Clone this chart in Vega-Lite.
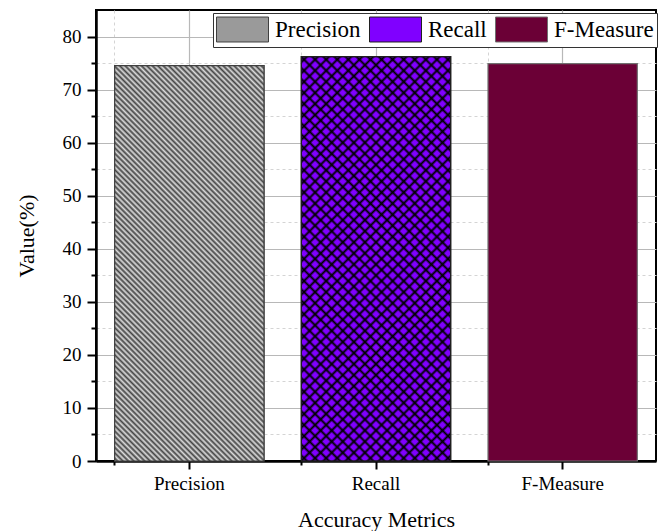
{
  "$schema": "https://vega.github.io/schema/vega-lite/v6.json",
  "width": 560,
  "height": 451,
  "autosize": "none",
  "padding": {"left": 96, "top": 10, "right": 4, "bottom": 70},
  "background": "white",
  "data": {"values": [
    {"Metric": "Precision", "Value": 74.5},
    {"Metric": "Recall", "Value": 76.2},
    {"Metric": "F-Measure", "Value": 74.9}
  ]},
  "config": {
    "view": {"stroke": "black", "strokeWidth": 2},
    "font": "Liberation Serif"
  },
  "resolve": {"axis": {"x": "independent", "y": "independent"}},
  "layer": [
    {
      "mark": {"type": "bar", "opacity": 0},
      "encoding": {
        "x": {
          "field": "Metric", "type": "nominal",
          "scale": {"domain": ["Precision", "Recall", "F-Measure"], "paddingInner": 0.2, "paddingOuter": 0.1},
          "axis": {"orient": "bottom", "bandPosition": 0, "labels": false, "title": null, "domain": false,
                   "ticks": true, "tickSize": 4, "tickWidth": 2, "tickColor": "black",
                   "grid": true, "gridDash": [3, 3], "gridColor": "#d4d4d4", "gridWidth": 1}
        },
        "y": {
          "field": "Value", "type": "quantitative",
          "scale": {"domain": [0, 85], "nice": false},
          "axis": {"orient": "left", "values": [5, 15, 25, 35, 45, 55, 65, 75], "labels": false, "title": null, "domain": false,
                   "tickSize": 5, "tickWidth": 2, "tickColor": "black",
                   "grid": true, "gridDash": [3, 3], "gridColor": "#d4d4d4", "gridWidth": 1}
        }
      }
    },
    {
      "mark": {"type": "bar", "strokeWidth": 1.2},
      "encoding": {
        "x": {
          "field": "Metric", "type": "nominal",
          "scale": {"domain": ["Precision", "Recall", "F-Measure"], "paddingInner": 0.2, "paddingOuter": 0.1},
          "axis": {"orient": "bottom", "labelAngle": 0, "labelFont": "Liberation Serif", "labelFontSize": 19, "labelColor": "black", "labelPadding": 5,
                   "domain": true, "domainColor": "black", "domainWidth": 2.5,
                   "ticks": true, "tickSize": 8, "tickWidth": 2, "tickColor": "black",
                   "grid": true, "gridColor": "#b8b8b8", "gridWidth": 1.2,
                   "title": "Accuracy Metrics", "titleFont": "Liberation Serif", "titleFontSize": 22, "titleFontWeight": "normal", "titleColor": "black", "titlePadding": 16}
        },
        "y": {
          "field": "Value", "type": "quantitative",
          "scale": {"domain": [0, 85], "nice": false},
          "axis": {"orient": "left", "values": [0, 10, 20, 30, 40, 50, 60, 70, 80], "labelFont": "Liberation Serif", "labelFontSize": 19, "labelColor": "black", "labelPadding": 6,
                   "domain": true, "domainColor": "black", "domainWidth": 2.5,
                   "tickSize": 9, "tickWidth": 2, "tickColor": "black",
                   "grid": true, "gridColor": "#b8b8b8", "gridWidth": 1.2,
                   "title": "Value(%)", "titleFont": "Liberation Serif", "titleFontSize": 22, "titleFontWeight": "normal", "titleColor": "black", "titlePadding": 24}
        },
        "fill": {
          "field": "Metric", "type": "nominal",
          "sort": ["Precision", "Recall", "F-Measure"],
          "scale": {"domain": ["Precision", "Recall", "F-Measure"], "range": ["#9a9a9a", "#8000ff", "#6b0036"]},
          "legend": {"orient": "none", "legendX": 117, "legendY": 3, "direction": "horizontal", "title": null,
                     "symbolType": "M-1,-0.96H3V0.96H-1Z", "symbolSize": 676, "symbolStrokeWidth": 1, "symbolOpacity": 1,
                     "labelFontSize": 23, "labelFont": "Liberation Serif", "labelColor": "black", "labelOffset": 32, "labelLimit": 0,
                     "columnPadding": 6, "padding": 3, "strokeColor": "#333333", "fillColor": "white"}
        },
        "stroke": {
          "field": "Metric", "type": "nominal",
          "sort": ["Precision", "Recall", "F-Measure"],
          "scale": {"domain": ["Precision", "Recall", "F-Measure"], "range": ["#404040", "#202020", "#707070"]},
          "legend": null
        }
      }
    },
    {
      "transform": [{"filter": "datum.Metric === 'Precision'"}],
      "mark": {"type": "bar", "stroke": "#404040", "strokeWidth": 1.2,
        "fill": {"gradient": "linear", "x1": 0, "y1": 1, "x2": 0.45538, "y2": -0.20571, "stops": [
          {"offset":0,"color":"#dcdcdc"},{"offset":0.005,"color":"#444444"},{"offset":0.01,"color":"#dcdcdc"},{"offset":0.015,"color":"#444444"},
          {"offset":0.02,"color":"#dcdcdc"},{"offset":0.025,"color":"#444444"},{"offset":0.03,"color":"#dcdcdc"},{"offset":0.035,"color":"#444444"},
          {"offset":0.04,"color":"#dcdcdc"},{"offset":0.045,"color":"#444444"},{"offset":0.05,"color":"#dcdcdc"},{"offset":0.055,"color":"#444444"},
          {"offset":0.06,"color":"#dcdcdc"},{"offset":0.065,"color":"#444444"},{"offset":0.07,"color":"#dcdcdc"},{"offset":0.075,"color":"#444444"},
          {"offset":0.08,"color":"#dcdcdc"},{"offset":0.085,"color":"#444444"},{"offset":0.09,"color":"#dcdcdc"},{"offset":0.095,"color":"#444444"},
          {"offset":0.1,"color":"#dcdcdc"},{"offset":0.105,"color":"#444444"},{"offset":0.11,"color":"#dcdcdc"},{"offset":0.115,"color":"#444444"},
          {"offset":0.12,"color":"#dcdcdc"},{"offset":0.125,"color":"#444444"},{"offset":0.13,"color":"#dcdcdc"},{"offset":0.135,"color":"#444444"},
          {"offset":0.14,"color":"#dcdcdc"},{"offset":0.145,"color":"#444444"},{"offset":0.15,"color":"#dcdcdc"},{"offset":0.155,"color":"#444444"},
          {"offset":0.16,"color":"#dcdcdc"},{"offset":0.165,"color":"#444444"},{"offset":0.17,"color":"#dcdcdc"},{"offset":0.175,"color":"#444444"},
          {"offset":0.18,"color":"#dcdcdc"},{"offset":0.185,"color":"#444444"},{"offset":0.19,"color":"#dcdcdc"},{"offset":0.195,"color":"#444444"},
          {"offset":0.2,"color":"#dcdcdc"},{"offset":0.205,"color":"#444444"},{"offset":0.21,"color":"#dcdcdc"},{"offset":0.215,"color":"#444444"},
          {"offset":0.22,"color":"#dcdcdc"},{"offset":0.225,"color":"#444444"},{"offset":0.23,"color":"#dcdcdc"},{"offset":0.235,"color":"#444444"},
          {"offset":0.24,"color":"#dcdcdc"},{"offset":0.245,"color":"#444444"},{"offset":0.25,"color":"#dcdcdc"},{"offset":0.255,"color":"#444444"},
          {"offset":0.26,"color":"#dcdcdc"},{"offset":0.265,"color":"#444444"},{"offset":0.27,"color":"#dcdcdc"},{"offset":0.275,"color":"#444444"},
          {"offset":0.28,"color":"#dcdcdc"},{"offset":0.285,"color":"#444444"},{"offset":0.29,"color":"#dcdcdc"},{"offset":0.295,"color":"#444444"},
          {"offset":0.3,"color":"#dcdcdc"},{"offset":0.305,"color":"#444444"},{"offset":0.31,"color":"#dcdcdc"},{"offset":0.315,"color":"#444444"},
          {"offset":0.32,"color":"#dcdcdc"},{"offset":0.325,"color":"#444444"},{"offset":0.33,"color":"#dcdcdc"},{"offset":0.335,"color":"#444444"},
          {"offset":0.34,"color":"#dcdcdc"},{"offset":0.345,"color":"#444444"},{"offset":0.35,"color":"#dcdcdc"},{"offset":0.355,"color":"#444444"},
          {"offset":0.36,"color":"#dcdcdc"},{"offset":0.365,"color":"#444444"},{"offset":0.37,"color":"#dcdcdc"},{"offset":0.375,"color":"#444444"},
          {"offset":0.38,"color":"#dcdcdc"},{"offset":0.385,"color":"#444444"},{"offset":0.39,"color":"#dcdcdc"},{"offset":0.395,"color":"#444444"},
          {"offset":0.4,"color":"#dcdcdc"},{"offset":0.405,"color":"#444444"},{"offset":0.41,"color":"#dcdcdc"},{"offset":0.415,"color":"#444444"},
          {"offset":0.42,"color":"#dcdcdc"},{"offset":0.425,"color":"#444444"},{"offset":0.43,"color":"#dcdcdc"},{"offset":0.435,"color":"#444444"},
          {"offset":0.44,"color":"#dcdcdc"},{"offset":0.445,"color":"#444444"},{"offset":0.45,"color":"#dcdcdc"},{"offset":0.455,"color":"#444444"},
          {"offset":0.46,"color":"#dcdcdc"},{"offset":0.465,"color":"#444444"},{"offset":0.47,"color":"#dcdcdc"},{"offset":0.475,"color":"#444444"},
          {"offset":0.48,"color":"#dcdcdc"},{"offset":0.485,"color":"#444444"},{"offset":0.49,"color":"#dcdcdc"},{"offset":0.495,"color":"#444444"},
          {"offset":0.5,"color":"#dcdcdc"},{"offset":0.505,"color":"#444444"},{"offset":0.51,"color":"#dcdcdc"},{"offset":0.515,"color":"#444444"},
          {"offset":0.52,"color":"#dcdcdc"},{"offset":0.525,"color":"#444444"},{"offset":0.53,"color":"#dcdcdc"},{"offset":0.535,"color":"#444444"},
          {"offset":0.54,"color":"#dcdcdc"},{"offset":0.545,"color":"#444444"},{"offset":0.55,"color":"#dcdcdc"},{"offset":0.555,"color":"#444444"},
          {"offset":0.56,"color":"#dcdcdc"},{"offset":0.565,"color":"#444444"},{"offset":0.57,"color":"#dcdcdc"},{"offset":0.575,"color":"#444444"},
          {"offset":0.58,"color":"#dcdcdc"},{"offset":0.585,"color":"#444444"},{"offset":0.59,"color":"#dcdcdc"},{"offset":0.595,"color":"#444444"},
          {"offset":0.6,"color":"#dcdcdc"},{"offset":0.605,"color":"#444444"},{"offset":0.61,"color":"#dcdcdc"},{"offset":0.615,"color":"#444444"},
          {"offset":0.62,"color":"#dcdcdc"},{"offset":0.625,"color":"#444444"},{"offset":0.63,"color":"#dcdcdc"},{"offset":0.635,"color":"#444444"},
          {"offset":0.64,"color":"#dcdcdc"},{"offset":0.645,"color":"#444444"},{"offset":0.65,"color":"#dcdcdc"},{"offset":0.655,"color":"#444444"},
          {"offset":0.66,"color":"#dcdcdc"},{"offset":0.665,"color":"#444444"},{"offset":0.67,"color":"#dcdcdc"},{"offset":0.675,"color":"#444444"},
          {"offset":0.68,"color":"#dcdcdc"},{"offset":0.685,"color":"#444444"},{"offset":0.69,"color":"#dcdcdc"},{"offset":0.695,"color":"#444444"},
          {"offset":0.7,"color":"#dcdcdc"},{"offset":0.705,"color":"#444444"},{"offset":0.71,"color":"#dcdcdc"},{"offset":0.715,"color":"#444444"},
          {"offset":0.72,"color":"#dcdcdc"},{"offset":0.725,"color":"#444444"},{"offset":0.73,"color":"#dcdcdc"},{"offset":0.735,"color":"#444444"},
          {"offset":0.74,"color":"#dcdcdc"},{"offset":0.745,"color":"#444444"},{"offset":0.75,"color":"#dcdcdc"},{"offset":0.755,"color":"#444444"},
          {"offset":0.76,"color":"#dcdcdc"},{"offset":0.765,"color":"#444444"},{"offset":0.77,"color":"#dcdcdc"},{"offset":0.775,"color":"#444444"},
          {"offset":0.78,"color":"#dcdcdc"},{"offset":0.785,"color":"#444444"},{"offset":0.79,"color":"#dcdcdc"},{"offset":0.795,"color":"#444444"},
          {"offset":0.8,"color":"#dcdcdc"},{"offset":0.805,"color":"#444444"},{"offset":0.81,"color":"#dcdcdc"},{"offset":0.815,"color":"#444444"},
          {"offset":0.82,"color":"#dcdcdc"},{"offset":0.825,"color":"#444444"},{"offset":0.83,"color":"#dcdcdc"},{"offset":0.835,"color":"#444444"},
          {"offset":0.84,"color":"#dcdcdc"},{"offset":0.845,"color":"#444444"},{"offset":0.85,"color":"#dcdcdc"},{"offset":0.855,"color":"#444444"},
          {"offset":0.86,"color":"#dcdcdc"},{"offset":0.865,"color":"#444444"},{"offset":0.87,"color":"#dcdcdc"},{"offset":0.875,"color":"#444444"},
          {"offset":0.88,"color":"#dcdcdc"},{"offset":0.885,"color":"#444444"},{"offset":0.89,"color":"#dcdcdc"},{"offset":0.895,"color":"#444444"},
          {"offset":0.9,"color":"#dcdcdc"},{"offset":0.905,"color":"#444444"},{"offset":0.91,"color":"#dcdcdc"},{"offset":0.915,"color":"#444444"},
          {"offset":0.92,"color":"#dcdcdc"},{"offset":0.925,"color":"#444444"},{"offset":0.93,"color":"#dcdcdc"},{"offset":0.935,"color":"#444444"},
          {"offset":0.94,"color":"#dcdcdc"},{"offset":0.945,"color":"#444444"},{"offset":0.95,"color":"#dcdcdc"},{"offset":0.955,"color":"#444444"},
          {"offset":0.96,"color":"#dcdcdc"},{"offset":0.965,"color":"#444444"},{"offset":0.97,"color":"#dcdcdc"},{"offset":0.975,"color":"#444444"},
          {"offset":0.98,"color":"#dcdcdc"},{"offset":0.985,"color":"#444444"},{"offset":0.99,"color":"#dcdcdc"},{"offset":0.995,"color":"#444444"},
          {"offset":1,"color":"#dcdcdc"}]}},
      "encoding": {
        "x": {"field": "Metric", "type": "nominal", "scale": {"domain": ["Precision", "Recall", "F-Measure"], "paddingInner": 0.2, "paddingOuter": 0.1}, "axis": null},
        "y": {"field": "Value", "type": "quantitative", "scale": {"domain": [0, 85], "nice": false}, "axis": null}
      }
    },
    {
      "transform": [{"filter": "datum.Metric === 'Recall'"}],
      "mark": {"type": "bar", "strokeWidth": 0,
        "fill": {"gradient": "linear", "x1": 0, "y1": 1, "x2": 0.44497, "y2": -0.20498, "stops": [
          {"offset":0.005,"color":"transparent"},{"offset":0.01,"color":"#000"},{"offset":0.015,"color":"transparent"},
          {"offset":0.025,"color":"transparent"},{"offset":0.03,"color":"#000"},{"offset":0.035,"color":"transparent"},
          {"offset":0.045,"color":"transparent"},{"offset":0.05,"color":"#000"},{"offset":0.055,"color":"transparent"},
          {"offset":0.065,"color":"transparent"},{"offset":0.07,"color":"#000"},{"offset":0.075,"color":"transparent"},
          {"offset":0.085,"color":"transparent"},{"offset":0.09,"color":"#000"},{"offset":0.095,"color":"transparent"},
          {"offset":0.105,"color":"transparent"},{"offset":0.11,"color":"#000"},{"offset":0.115,"color":"transparent"},
          {"offset":0.125,"color":"transparent"},{"offset":0.13,"color":"#000"},{"offset":0.135,"color":"transparent"},
          {"offset":0.145,"color":"transparent"},{"offset":0.15,"color":"#000"},{"offset":0.155,"color":"transparent"},
          {"offset":0.165,"color":"transparent"},{"offset":0.17,"color":"#000"},{"offset":0.175,"color":"transparent"},
          {"offset":0.185,"color":"transparent"},{"offset":0.19,"color":"#000"},{"offset":0.195,"color":"transparent"},
          {"offset":0.205,"color":"transparent"},{"offset":0.21,"color":"#000"},{"offset":0.215,"color":"transparent"},
          {"offset":0.225,"color":"transparent"},{"offset":0.23,"color":"#000"},{"offset":0.235,"color":"transparent"},
          {"offset":0.245,"color":"transparent"},{"offset":0.25,"color":"#000"},{"offset":0.255,"color":"transparent"},
          {"offset":0.265,"color":"transparent"},{"offset":0.27,"color":"#000"},{"offset":0.275,"color":"transparent"},
          {"offset":0.285,"color":"transparent"},{"offset":0.29,"color":"#000"},{"offset":0.295,"color":"transparent"},
          {"offset":0.305,"color":"transparent"},{"offset":0.31,"color":"#000"},{"offset":0.315,"color":"transparent"},
          {"offset":0.325,"color":"transparent"},{"offset":0.33,"color":"#000"},{"offset":0.335,"color":"transparent"},
          {"offset":0.345,"color":"transparent"},{"offset":0.35,"color":"#000"},{"offset":0.355,"color":"transparent"},
          {"offset":0.365,"color":"transparent"},{"offset":0.37,"color":"#000"},{"offset":0.375,"color":"transparent"},
          {"offset":0.385,"color":"transparent"},{"offset":0.39,"color":"#000"},{"offset":0.395,"color":"transparent"},
          {"offset":0.405,"color":"transparent"},{"offset":0.41,"color":"#000"},{"offset":0.415,"color":"transparent"},
          {"offset":0.425,"color":"transparent"},{"offset":0.43,"color":"#000"},{"offset":0.435,"color":"transparent"},
          {"offset":0.445,"color":"transparent"},{"offset":0.45,"color":"#000"},{"offset":0.455,"color":"transparent"},
          {"offset":0.465,"color":"transparent"},{"offset":0.47,"color":"#000"},{"offset":0.475,"color":"transparent"},
          {"offset":0.485,"color":"transparent"},{"offset":0.49,"color":"#000"},{"offset":0.495,"color":"transparent"},
          {"offset":0.505,"color":"transparent"},{"offset":0.51,"color":"#000"},{"offset":0.515,"color":"transparent"},
          {"offset":0.525,"color":"transparent"},{"offset":0.53,"color":"#000"},{"offset":0.535,"color":"transparent"},
          {"offset":0.545,"color":"transparent"},{"offset":0.55,"color":"#000"},{"offset":0.555,"color":"transparent"},
          {"offset":0.565,"color":"transparent"},{"offset":0.57,"color":"#000"},{"offset":0.575,"color":"transparent"},
          {"offset":0.585,"color":"transparent"},{"offset":0.59,"color":"#000"},{"offset":0.595,"color":"transparent"},
          {"offset":0.605,"color":"transparent"},{"offset":0.61,"color":"#000"},{"offset":0.615,"color":"transparent"},
          {"offset":0.625,"color":"transparent"},{"offset":0.63,"color":"#000"},{"offset":0.635,"color":"transparent"},
          {"offset":0.645,"color":"transparent"},{"offset":0.65,"color":"#000"},{"offset":0.655,"color":"transparent"},
          {"offset":0.665,"color":"transparent"},{"offset":0.67,"color":"#000"},{"offset":0.675,"color":"transparent"},
          {"offset":0.685,"color":"transparent"},{"offset":0.69,"color":"#000"},{"offset":0.695,"color":"transparent"},
          {"offset":0.705,"color":"transparent"},{"offset":0.71,"color":"#000"},{"offset":0.715,"color":"transparent"},
          {"offset":0.725,"color":"transparent"},{"offset":0.73,"color":"#000"},{"offset":0.735,"color":"transparent"},
          {"offset":0.745,"color":"transparent"},{"offset":0.75,"color":"#000"},{"offset":0.755,"color":"transparent"},
          {"offset":0.765,"color":"transparent"},{"offset":0.77,"color":"#000"},{"offset":0.775,"color":"transparent"},
          {"offset":0.785,"color":"transparent"},{"offset":0.79,"color":"#000"},{"offset":0.795,"color":"transparent"},
          {"offset":0.805,"color":"transparent"},{"offset":0.81,"color":"#000"},{"offset":0.815,"color":"transparent"},
          {"offset":0.825,"color":"transparent"},{"offset":0.83,"color":"#000"},{"offset":0.835,"color":"transparent"},
          {"offset":0.845,"color":"transparent"},{"offset":0.85,"color":"#000"},{"offset":0.855,"color":"transparent"},
          {"offset":0.865,"color":"transparent"},{"offset":0.87,"color":"#000"},{"offset":0.875,"color":"transparent"},
          {"offset":0.885,"color":"transparent"},{"offset":0.89,"color":"#000"},{"offset":0.895,"color":"transparent"},
          {"offset":0.905,"color":"transparent"},{"offset":0.91,"color":"#000"},{"offset":0.915,"color":"transparent"},
          {"offset":0.925,"color":"transparent"},{"offset":0.93,"color":"#000"},{"offset":0.935,"color":"transparent"},
          {"offset":0.945,"color":"transparent"},{"offset":0.95,"color":"#000"},{"offset":0.955,"color":"transparent"},
          {"offset":0.965,"color":"transparent"},{"offset":0.97,"color":"#000"},{"offset":0.975,"color":"transparent"},
          {"offset":0.985,"color":"transparent"},{"offset":0.99,"color":"#000"},{"offset":0.995,"color":"transparent"}]}},
      "encoding": {
        "x": {"field": "Metric", "type": "nominal", "scale": {"domain": ["Precision", "Recall", "F-Measure"], "paddingInner": 0.2, "paddingOuter": 0.1}, "axis": null},
        "y": {"field": "Value", "type": "quantitative", "scale": {"domain": [0, 85], "nice": false}, "axis": null}
      }
    },
    {
      "transform": [{"filter": "datum.Metric === 'Recall'"}],
      "mark": {"type": "bar", "stroke": "#202020", "strokeWidth": 1.2,
        "fill": {"gradient": "linear", "x1": 0, "y1": 0, "x2": 0.44497, "y2": 1.20498, "stops": [
          {"offset":0.005,"color":"transparent"},{"offset":0.01,"color":"#000"},{"offset":0.015,"color":"transparent"},
          {"offset":0.025,"color":"transparent"},{"offset":0.03,"color":"#000"},{"offset":0.035,"color":"transparent"},
          {"offset":0.045,"color":"transparent"},{"offset":0.05,"color":"#000"},{"offset":0.055,"color":"transparent"},
          {"offset":0.065,"color":"transparent"},{"offset":0.07,"color":"#000"},{"offset":0.075,"color":"transparent"},
          {"offset":0.085,"color":"transparent"},{"offset":0.09,"color":"#000"},{"offset":0.095,"color":"transparent"},
          {"offset":0.105,"color":"transparent"},{"offset":0.11,"color":"#000"},{"offset":0.115,"color":"transparent"},
          {"offset":0.125,"color":"transparent"},{"offset":0.13,"color":"#000"},{"offset":0.135,"color":"transparent"},
          {"offset":0.145,"color":"transparent"},{"offset":0.15,"color":"#000"},{"offset":0.155,"color":"transparent"},
          {"offset":0.165,"color":"transparent"},{"offset":0.17,"color":"#000"},{"offset":0.175,"color":"transparent"},
          {"offset":0.185,"color":"transparent"},{"offset":0.19,"color":"#000"},{"offset":0.195,"color":"transparent"},
          {"offset":0.205,"color":"transparent"},{"offset":0.21,"color":"#000"},{"offset":0.215,"color":"transparent"},
          {"offset":0.225,"color":"transparent"},{"offset":0.23,"color":"#000"},{"offset":0.235,"color":"transparent"},
          {"offset":0.245,"color":"transparent"},{"offset":0.25,"color":"#000"},{"offset":0.255,"color":"transparent"},
          {"offset":0.265,"color":"transparent"},{"offset":0.27,"color":"#000"},{"offset":0.275,"color":"transparent"},
          {"offset":0.285,"color":"transparent"},{"offset":0.29,"color":"#000"},{"offset":0.295,"color":"transparent"},
          {"offset":0.305,"color":"transparent"},{"offset":0.31,"color":"#000"},{"offset":0.315,"color":"transparent"},
          {"offset":0.325,"color":"transparent"},{"offset":0.33,"color":"#000"},{"offset":0.335,"color":"transparent"},
          {"offset":0.345,"color":"transparent"},{"offset":0.35,"color":"#000"},{"offset":0.355,"color":"transparent"},
          {"offset":0.365,"color":"transparent"},{"offset":0.37,"color":"#000"},{"offset":0.375,"color":"transparent"},
          {"offset":0.385,"color":"transparent"},{"offset":0.39,"color":"#000"},{"offset":0.395,"color":"transparent"},
          {"offset":0.405,"color":"transparent"},{"offset":0.41,"color":"#000"},{"offset":0.415,"color":"transparent"},
          {"offset":0.425,"color":"transparent"},{"offset":0.43,"color":"#000"},{"offset":0.435,"color":"transparent"},
          {"offset":0.445,"color":"transparent"},{"offset":0.45,"color":"#000"},{"offset":0.455,"color":"transparent"},
          {"offset":0.465,"color":"transparent"},{"offset":0.47,"color":"#000"},{"offset":0.475,"color":"transparent"},
          {"offset":0.485,"color":"transparent"},{"offset":0.49,"color":"#000"},{"offset":0.495,"color":"transparent"},
          {"offset":0.505,"color":"transparent"},{"offset":0.51,"color":"#000"},{"offset":0.515,"color":"transparent"},
          {"offset":0.525,"color":"transparent"},{"offset":0.53,"color":"#000"},{"offset":0.535,"color":"transparent"},
          {"offset":0.545,"color":"transparent"},{"offset":0.55,"color":"#000"},{"offset":0.555,"color":"transparent"},
          {"offset":0.565,"color":"transparent"},{"offset":0.57,"color":"#000"},{"offset":0.575,"color":"transparent"},
          {"offset":0.585,"color":"transparent"},{"offset":0.59,"color":"#000"},{"offset":0.595,"color":"transparent"},
          {"offset":0.605,"color":"transparent"},{"offset":0.61,"color":"#000"},{"offset":0.615,"color":"transparent"},
          {"offset":0.625,"color":"transparent"},{"offset":0.63,"color":"#000"},{"offset":0.635,"color":"transparent"},
          {"offset":0.645,"color":"transparent"},{"offset":0.65,"color":"#000"},{"offset":0.655,"color":"transparent"},
          {"offset":0.665,"color":"transparent"},{"offset":0.67,"color":"#000"},{"offset":0.675,"color":"transparent"},
          {"offset":0.685,"color":"transparent"},{"offset":0.69,"color":"#000"},{"offset":0.695,"color":"transparent"},
          {"offset":0.705,"color":"transparent"},{"offset":0.71,"color":"#000"},{"offset":0.715,"color":"transparent"},
          {"offset":0.725,"color":"transparent"},{"offset":0.73,"color":"#000"},{"offset":0.735,"color":"transparent"},
          {"offset":0.745,"color":"transparent"},{"offset":0.75,"color":"#000"},{"offset":0.755,"color":"transparent"},
          {"offset":0.765,"color":"transparent"},{"offset":0.77,"color":"#000"},{"offset":0.775,"color":"transparent"},
          {"offset":0.785,"color":"transparent"},{"offset":0.79,"color":"#000"},{"offset":0.795,"color":"transparent"},
          {"offset":0.805,"color":"transparent"},{"offset":0.81,"color":"#000"},{"offset":0.815,"color":"transparent"},
          {"offset":0.825,"color":"transparent"},{"offset":0.83,"color":"#000"},{"offset":0.835,"color":"transparent"},
          {"offset":0.845,"color":"transparent"},{"offset":0.85,"color":"#000"},{"offset":0.855,"color":"transparent"},
          {"offset":0.865,"color":"transparent"},{"offset":0.87,"color":"#000"},{"offset":0.875,"color":"transparent"},
          {"offset":0.885,"color":"transparent"},{"offset":0.89,"color":"#000"},{"offset":0.895,"color":"transparent"},
          {"offset":0.905,"color":"transparent"},{"offset":0.91,"color":"#000"},{"offset":0.915,"color":"transparent"},
          {"offset":0.925,"color":"transparent"},{"offset":0.93,"color":"#000"},{"offset":0.935,"color":"transparent"},
          {"offset":0.945,"color":"transparent"},{"offset":0.95,"color":"#000"},{"offset":0.955,"color":"transparent"},
          {"offset":0.965,"color":"transparent"},{"offset":0.97,"color":"#000"},{"offset":0.975,"color":"transparent"},
          {"offset":0.985,"color":"transparent"},{"offset":0.99,"color":"#000"},{"offset":0.995,"color":"transparent"}]}},
      "encoding": {
        "x": {"field": "Metric", "type": "nominal", "scale": {"domain": ["Precision", "Recall", "F-Measure"], "paddingInner": 0.2, "paddingOuter": 0.1}, "axis": null},
        "y": {"field": "Value", "type": "quantitative", "scale": {"domain": [0, 85], "nice": false}, "axis": null}
      }
    }
  ]
}
